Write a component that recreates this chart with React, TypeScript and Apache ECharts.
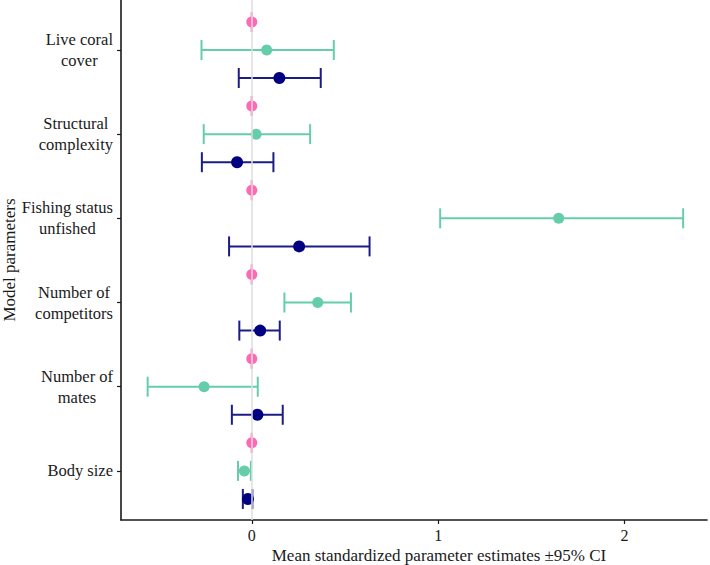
import React, { useEffect, useRef } from "react";
import * as echarts from "echarts";

// Categories, top to bottom
const categories = [
  "Live coral\ncover",
  "Structural\ncomplexity",
  "Fishing status\nunfished",
  "Number of\ncompetitors",
  "Number of\nmates",
  "Body size",
];

// Pink (reference) estimates and CI
const pinkEst = [0, 0, 0, 0, 0, 0];
const pinkLow = [0, 0, 0, 0, 0, 0];
const pinkHigh = [0, 0, 0, 0, 0, 0];

// Teal estimates and CI
const tealEst = [0.08, 0.023, 1.647, 0.354, -0.256, -0.04];
const tealLow = [-0.27, -0.258, 1.011, 0.175, -0.559, -0.074];
const tealHigh = [0.44, 0.313, 2.315, 0.532, 0.032, -0.005];

// Navy estimates and CI
const navyEst = [0.148, -0.079, 0.254, 0.045, 0.03, -0.021];
const navyLow = [-0.07, -0.268, -0.122, -0.067, -0.107, -0.048];
const navyHigh = [0.37, 0.116, 0.632, 0.15, 0.166, 0.003];

const xTicks = [0, 1, 2];

const FONT = "Liberation Serif, Times New Roman, serif";
const PINK = "#ff69b4";
const TEAL = "#66cdaa";
const NAVY = "#000080";
const NAVY_BAR = "#1c1c84";

export default function App() {
  const ref = useRef<HTMLDivElement>(null);

  useEffect(() => {
    if (!ref.current) return;
    const chart = echarts.init(ref.current, undefined, { renderer: "svg" });
    const n = categories.length;
    // slot position for group i (top to bottom), offset: +1 pink, 0 teal, -1 navy
    const slot = (i: number, off: number) => 3 * (n - 1 - i) + 2 + off;
    const tickVals = categories.map((_, i) => slot(i, 0));

    const errSeries = (
      name: string,
      lows: number[],
      highs: number[],
      off: number,
      color: string
    ) => ({
      name: name + "-ci",
      type: "custom",
      z: 3,
      silent: true,
      encode: { x: [1, 2], y: 0 },
      data: lows.map((lo, i) => [slot(i, off), lo, highs[i]]),
      renderItem: (params: any, api: any) => {
        const y = api.value(0);
        const a = api.coord([api.value(1), y]);
        const b = api.coord([api.value(2), y]);
        const h = 10;
        const st = { stroke: color, lineWidth: 2 };
        return {
          type: "group",
          children: [
            { type: "line", shape: { x1: a[0], y1: a[1], x2: b[0], y2: b[1] }, style: st },
            { type: "line", shape: { x1: a[0], y1: a[1] - h, x2: a[0], y2: a[1] + h }, style: st },
            { type: "line", shape: { x1: b[0], y1: b[1] - h, x2: b[0], y2: b[1] + h }, style: st },
          ],
        };
      },
    });

    const dotSeries = (name: string, est: number[], off: number, color: string, size: number) => ({
      name,
      type: "scatter",
      z: 4,
      symbol: "circle",
      symbolSize: size,
      itemStyle: { color, opacity: 1 },
      data: est.map((v, i) => [v, slot(i, off)]),
    });

    chart.setOption({
      animation: false,
      backgroundColor: "#ffffff",
      grid: { left: 121, right: 3, top: 0, bottom: 45, containLabel: false, outerBoundsMode: "none" },
      xAxis: {
        type: "value",
        min: -0.702,
        max: 2.443,
        axisLine: { show: true, onZero: false, lineStyle: { color: "#1a1a1a", width: 1.6 } },
        axisTick: { show: true, length: 4, lineStyle: { color: "#1a1a1a", width: 1.2 }, customValues: xTicks },
        axisLabel: {
          customValues: xTicks,
          formatter: (v: number) => String(v),
          color: "#1a1a1a",
          fontFamily: FONT,
          fontSize: 16,
          margin: 7,
        },
        splitLine: { show: false },
        name: "Mean standardized parameter estimates \u00b195% CI",
        nameLocation: "middle",
        nameGap: 27,
        nameMoveOverlap: false,
        nameTextStyle: { color: "#1a1a1a", fontFamily: FONT, fontSize: 17, padding: [0, 0, 0, 50] },
      },
      yAxis: {
        type: "value",
        min: 0.25,
        max: 18.78,
        axisLine: { show: true, onZero: false, lineStyle: { color: "#1a1a1a", width: 1.6 } },
        axisTick: { show: true, length: 4, lineStyle: { color: "#1a1a1a", width: 1.2 }, customValues: tickVals },
        axisLabel: {
          customValues: tickVals,
          formatter: (v: number) => {
            const i = tickVals.indexOf(v);
            if (i < 0) return "";
            return categories[i]
              .split("\n")
              .map((l) => `{c|${l}}`)
              .join("\n");
          },
          align: "right",
          margin: 8,
          rich: {
            c: {
              align: "center",
              color: "#1a1a1a",
              fontFamily: FONT,
              fontSize: 16.5,
              lineHeight: 21,
            },
          },
        },
        splitLine: { show: false },
        name: "Model parameters",
        nameLocation: "middle",
        nameRotate: 90,
        nameGap: 103,
        nameMoveOverlap: false,
        nameTextStyle: { color: "#1a1a1a", fontFamily: FONT, fontSize: 17 },
      },
      series: [
        {
          name: "zero",
          type: "scatter",
          data: [],
          z: 1,
          markLine: {
            silent: true,
            symbol: ["none", "none"],
            label: { show: false },
            lineStyle: { color: "#dedede", width: 1.5, type: "solid" },
            data: [{ xAxis: 0 }],
          },
        },
        errSeries("pink", pinkLow, pinkHigh, 1, PINK),
        errSeries("teal", tealLow, tealHigh, 0, TEAL),
        errSeries("navy", navyLow, navyHigh, -1, NAVY_BAR),
        dotSeries("pink", pinkEst, 1, PINK, 11),
        dotSeries("teal", tealEst, 0, TEAL, 11),
        dotSeries("navy", navyEst, -1, NAVY, 12),
      ],
    });

    return () => chart.dispose();
  }, []);

  return (
    <div
      ref={ref}
      style={{ position: "absolute", left: 0, top: 0, width: 710, height: 565, background: "#fff" }}
    />
  );
}
